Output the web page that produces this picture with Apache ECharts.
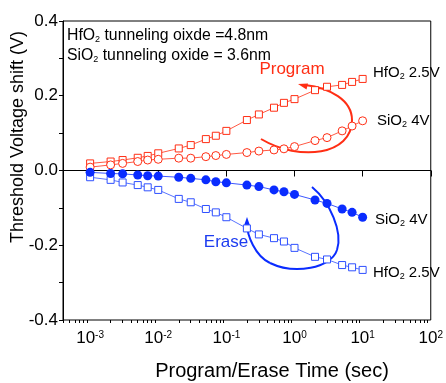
<!DOCTYPE html>
<html>
<head>
<meta charset="utf-8">
<script src="https://cdn.jsdelivr.net/npm/echarts@6/dist/echarts.min.js"></script>
<style>
  html, body { margin: 0; padding: 0; background: #fff; }
  #chart { width: 446px; height: 383px; }
</style>
</head>
<body>
<div id="chart"></div>
<script>
// pulse times (sec)
const times = [1e-3, 2e-3, 3e-3, 5e-3, 7e-3, 1e-2, 2e-2, 3e-2, 5e-2, 7e-2,
  0.1, 0.2, 0.3, 0.5, 0.7, 1, 2, 3, 5, 7, 10];
// threshold voltage shift (V)
const hfProgram = [0.019, 0.024, 0.028, 0.034, 0.039, 0.046, 0.059, 0.068, 0.084, 0.093,
  0.106, 0.135, 0.150, 0.168, 0.181, 0.191, 0.215, 0.224, 0.229, 0.237, 0.245];
const sioProgram = [0.009, 0.015, 0.019, 0.024, 0.028, 0.030, 0.033, 0.033, 0.037, 0.040,
  0.043, 0.048, 0.052, 0.055, 0.058, 0.064, 0.080, 0.088, 0.106, 0.119, 0.133];
const sioErase = [-0.005, -0.008, -0.009, -0.012, -0.014, -0.015, -0.018, -0.021, -0.025, -0.030,
  -0.033, -0.039, -0.043, -0.052, -0.057, -0.064, -0.079, -0.088, -0.103, -0.112, -0.125];
const hfErase = [-0.018, -0.025, -0.032, -0.039, -0.045, -0.052, -0.076, -0.085, -0.103, -0.112,
  -0.125, -0.155, -0.171, -0.181, -0.190, -0.207, -0.231, -0.238, -0.253, -0.259, -0.266];

const xMajorTicks = [1e-3, 1e-2, 1e-1, 1, 10, 100];
const xMinorTicks = [];
for (let d = -4; d <= 1; d++) {
  for (let k = 2; k <= 9; k++) xMinorTicks.push(k * Math.pow(10, d));
}

const FONT = "'Liberation Sans', Arial, sans-serif";
const RED = "#ff2e14";
const BLUE = "#0a2cff";
const BLUE2 = "#2f50ff";

const pairs = (ys) => times.map((t, i) => [t, ys[i]]);

// annotation curve helper (cubic segments)
const curve = (seg, color) => ({
  type: "bezierCurve",
  shape: { x1: seg[0], y1: seg[1], cpx1: seg[2], cpy1: seg[3], cpx2: seg[4], cpy2: seg[5], x2: seg[6], y2: seg[7] },
  style: { fill: null, stroke: color, lineWidth: 2 }
});

const label = (x, y, main, sub, rest, size) => ({
  type: "text", x: x, y: y,
  style: {
    text: "{m|" + main + "}{u|" + sub + "}{m|" + rest + "}",
    rich: {
      m: { fontFamily: FONT, fontSize: size || 15, fill: "#000", lineHeight: 17 },
      u: { fontFamily: FONT, fontSize: 9, fill: "#000", verticalAlign: "bottom", lineHeight: 10 }
    }
  }
});

const chart = echarts.init(document.getElementById("chart"));

const option = {
  backgroundColor: "#fff",
  animation: false,
  grid: {
    left: 63, right: 12, top: 21, bottom: 63,
    show: true, borderColor: "#000", borderWidth: 1
  },
  xAxis: [
    {
      type: "log",
      logBase: 10,
      min: 4e-4,
      max: 100,
      axisLine: { lineStyle: { color: "#000", width: 1 } },
      axisTick: { customValues: xMajorTicks, length: 6, lineStyle: { color: "#000" } },
      axisLabel: {
        customValues: xMajorTicks,
        margin: 10,
        formatter: (v) => "{b|10}{s|" + Math.round(Math.log10(v)) + "}",
        rich: {
          b: { fontFamily: FONT, fontSize: 17, color: "#000", lineHeight: 17 },
          s: { fontFamily: FONT, fontSize: 10, color: "#000", verticalAlign: "top", lineHeight: 10 }
        }
      },
      splitLine: { show: false },
      minorTick: { show: false }
    },
    {
      type: "log",
      logBase: 10,
      min: 4e-4,
      max: 100,
      position: "bottom",
      axisLine: { show: false },
      axisTick: { customValues: xMinorTicks, length: 3, lineStyle: { color: "#000" } },
      axisLabel: { show: false },
      splitLine: { show: false }
    }
  ],
  yAxis: {
    type: "value",
    min: -0.4,
    max: 0.4,
    interval: 0.1,
    axisLine: { show: true, lineStyle: { color: "#000", width: 1 } },
    axisTick: { show: true, length: 4, lineStyle: { color: "#000" } },
    axisLabel: {
      margin: 5,
      fontFamily: FONT,
      fontSize: 17,
      color: "#000",
      formatter: (v) => {
        const n = Math.round(v * 10);
        if (n % 2 !== 0) return "";
        return n === 0 ? "0.0" : (n / 10).toFixed(1);
      }
    },
    splitLine: { show: false }
  },
  series: [
    {
      name: "HfO2 program",
      type: "line",
      data: pairs(hfProgram),
      symbol: "rect",
      symbolSize: 7,
      itemStyle: { color: "#fff", borderColor: RED, borderWidth: 1 },
      lineStyle: { color: RED, width: 0.8 }
    },
    {
      name: "SiO2 program",
      type: "line",
      data: pairs(sioProgram),
      symbol: "circle",
      symbolSize: 8,
      itemStyle: { color: "#fff", borderColor: RED, borderWidth: 1 },
      lineStyle: { color: RED, width: 0.8 }
    },
    {
      name: "HfO2 erase",
      type: "line",
      data: pairs(hfErase),
      symbol: "rect",
      symbolSize: 7,
      itemStyle: { color: "#fff", borderColor: BLUE2, borderWidth: 1 },
      lineStyle: { color: BLUE2, width: 0.8 }
    },
    {
      name: "SiO2 erase",
      type: "line",
      data: pairs(sioErase),
      symbol: "circle",
      symbolSize: 9,
      itemStyle: { color: BLUE },
      lineStyle: { color: BLUE, width: 0.8 }
    }
  ],
  graphic: [
    {
      type: "text", x: 18, y: 137, rotation: Math.PI / 2,
      style: { text: "Threshold Voltage shift (V)", fontFamily: FONT, fontSize: 18, fill: "#000", align: "center", verticalAlign: "middle" }
    },
    {
      type: "text", x: 272, y: 371,
      style: { text: "Program/Erase Time (sec)", fontFamily: FONT, fontSize: 20, fill: "#000", align: "center", verticalAlign: "middle" }
    },
    label(67, 27, "HfO", "2", " tunneling oixde =4.8nm", 15.8),
    label(67, 47, "SiO", "2", " tunneling oxide = 3.6nm", 15.8),
    label(373, 64, "HfO", "2", " 2.5V"),
    label(377, 112, "SiO", "2", " 4V"),
    label(375, 211, "SiO", "2", " 4V"),
    label(373, 264, "HfO", "2", " 2.5V"),
    {
      type: "text", x: 292, y: 69,
      style: { text: "Program", fontFamily: FONT, fontSize: 17, fill: RED, align: "center", verticalAlign: "middle" }
    },
    {
      type: "text", x: 226, y: 242,
      style: { text: "Erase", fontFamily: FONT, fontSize: 17, fill: "#1d3cf0", align: "center", verticalAlign: "middle" }
    },
    // program arrow
    curve([261, 139, 300, 162, 352, 155, 352, 120], RED),
    curve([352, 120, 352, 100, 330, 88, 305, 85], RED),
    {
      type: "polygon",
      shape: { points: [[298, 84], [308, 83.5], [306.5, 89.5]] },
      style: { fill: RED }
    },
    // erase arrow
    curve([312, 187, 330, 202, 343, 232, 337, 250], BLUE),
    curve([337, 250, 331, 268, 295, 275, 270, 263], BLUE),
    curve([270, 263, 255, 256, 247, 235, 247, 224], BLUE),
    {
      type: "polygon",
      shape: { points: [[247, 217], [243.5, 227], [250.5, 227]] },
      style: { fill: BLUE }
    }
  ]
};

chart.setOption(option);
</script>
</body>
</html>
